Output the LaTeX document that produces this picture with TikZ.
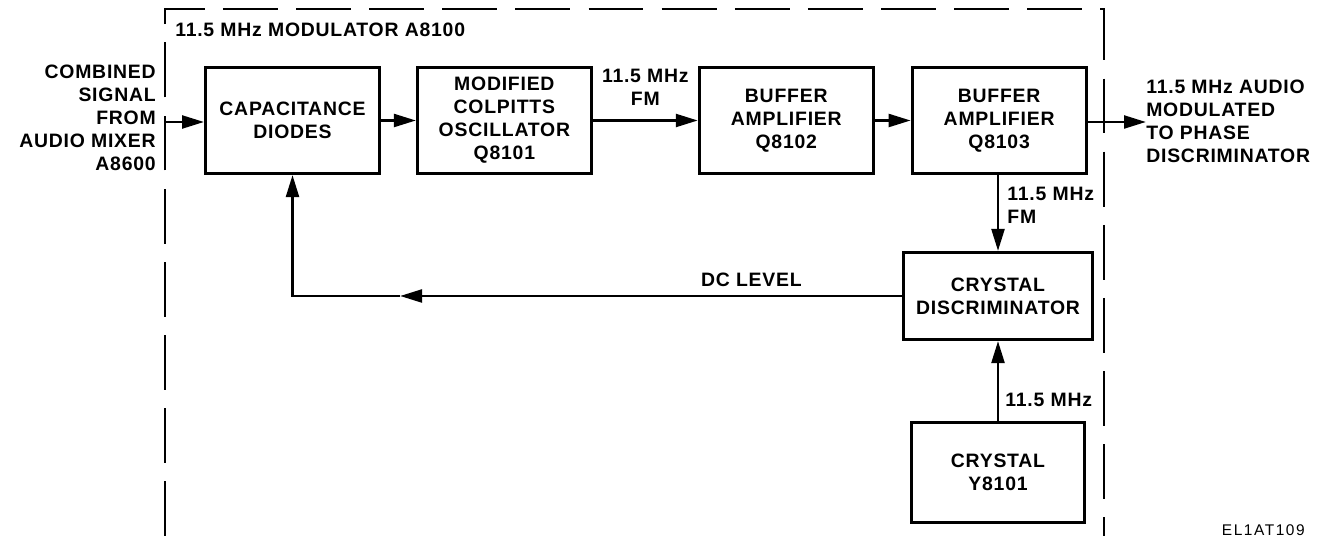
\documentclass[tikz,border=0pt]{standalone}
\usepackage{fontspec}
\setmainfont{Liberation Sans}[LetterSpace=4]
\usetikzlibrary{positioning,arrows.meta}

\begin{document}
\begin{tikzpicture}[
x=0.025cm,y=-0.025cm,
font=\fontsize{13.8}{16.3}\selectfont\bfseries,
box/.style={rectangle,draw,line width=2pt,minimum width=4.35cm,minimum height=2.655cm,align=center,inner sep=0pt},
arrow/.style={-{Triangle[length=5.5mm,width=3.2mm]},line width=2pt},
lbl/.style={inner sep=0pt},
frame/.style={line width=2pt,dash pattern=on 39pt off 13pt}
]
\useasboundingbox (0,0) rectangle (1328,536);
% module outline
\draw[frame] (165,536) -- (165,9) -- (1104,9) -- (1104,536);
\node[lbl,anchor=west] (title) at (175,30) {11.5 MHz MODULATOR A8100};
% signal chain
\node[box] (cap) at (292.5,120.5) {CAPACITANCE\\DIODES};
\node[box,right=8.75mm of cap] (osc) {MODIFIED\\COLPITTS\\OSCILLATOR\\Q8101};
\node[box,right=26.25mm of osc] (buf1) {BUFFER\\AMPLIFIER\\Q8102};
\node[box,right=9mm of buf1] (buf2) {BUFFER\\AMPLIFIER\\Q8103};
\node[box,minimum width=4.73cm,minimum height=2.18cm] (disc) at (998,296) {CRYSTAL\\DISCRIMINATOR};
\node[box,minimum width=4.33cm,minimum height=2.505cm] (xtal) at (998,472.5) {CRYSTAL\\Y8101};
\node[lbl,anchor=east,align=right] (inlbl) at (156,118) {COMBINED\\SIGNAL\\FROM\\AUDIO MIXER\\A8600};
\node[lbl,anchor=west,align=left] (outlbl) at (1146,121) {11.5 MHz AUDIO\\MODULATED\\TO PHASE\\DISCRIMINATOR};
\coordinate (dcmid) at (400,296);
\draw[arrow,shorten <=2mm] (inlbl.east |- 0,122) -- (cap.west |- 0,122);
\draw[arrow] (cap) -- (osc);
\draw[arrow] (osc) -- node[lbl,midway,above=3.5mm,align=center]{11.5 MHz\\FM} (buf1);
\draw[arrow] (buf1) -- (buf2);
\draw[arrow] (buf2.east |- 0,122) -- (outlbl.west |- 0,122);
\draw[arrow] (buf2.south -| disc.north) -- node[lbl,right=2mm,align=left,yshift=2mm]{11.5 MHz\\FM} (disc.north);
\draw[arrow] (xtal.north) -- node[lbl,pos=0.26,right=1.5mm]{11.5 MHz} (disc.south);
\draw[arrow] (disc.west) -- node[lbl,pos=0.3,above=2mm]{DC LEVEL} (dcmid);
\draw[arrow] (dcmid) -| (cap.south);
\node[lbl,anchor=east,font=\fontsize{11}{13}\selectfont\addfontfeatures{LetterSpace=10}] (code) at (1305,530) {EL1AT109};
\end{tikzpicture}
\end{document}
